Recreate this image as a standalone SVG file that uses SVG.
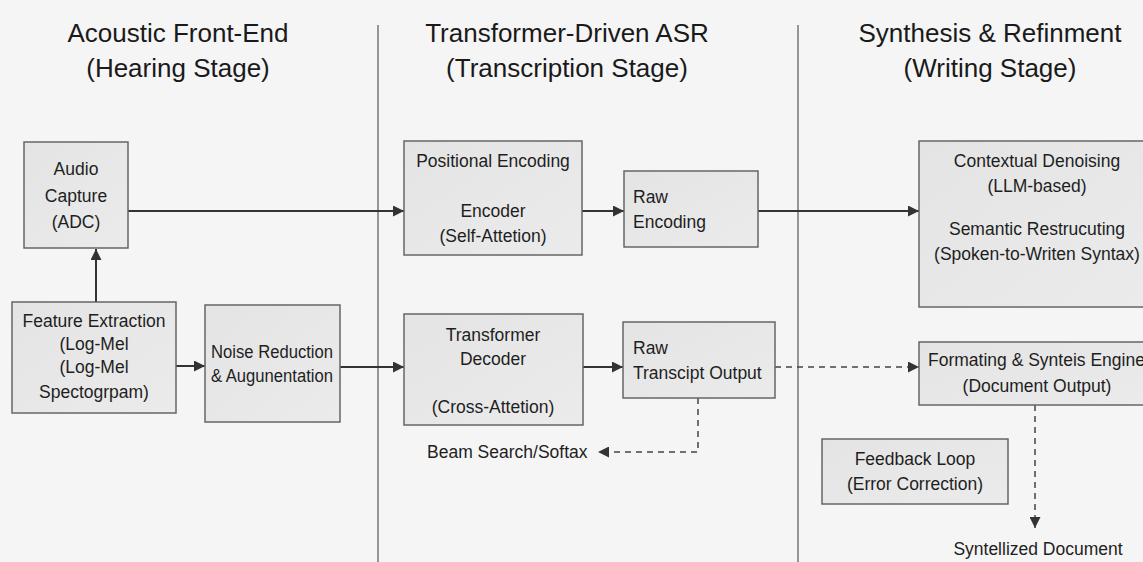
<svg xmlns="http://www.w3.org/2000/svg" width="1143" height="562" viewBox="0 0 1143 562">
<defs>
<linearGradient id="boxg" x1="0" y1="0" x2="1" y2="1">
<stop offset="0" stop-color="#e4e4e4"/>
<stop offset="1" stop-color="#ebebeb"/>
</linearGradient>
<marker id="ah" viewBox="0 0 10 10" refX="10" refY="5" markerWidth="11" markerHeight="11" markerUnits="userSpaceOnUse" orient="auto">
<path d="M0,0 L10,5 L0,10 Z" fill="#333"/>
</marker>
</defs>
<style>
.box{fill:url(#boxg);stroke:#666;stroke-width:1.5}
.t{font-family:"Liberation Sans",Arial,sans-serif;font-size:17.5px;fill:#1e1e1e}
.c{text-anchor:middle}
.title{font-family:"Liberation Sans",Arial,sans-serif;font-size:26px;fill:#1a1a1a;text-anchor:middle}
.ln{fill:none;stroke:#333;stroke-width:2}
.dash{fill:none;stroke:#444;stroke-width:1.5;stroke-dasharray:6 5}
.div{stroke:#555;stroke-width:1.2}
</style>
<rect width="1143" height="562" fill="#f5f5f5"/>
<g id="dividers">
<line class="div" x1="378" y1="25" x2="378" y2="562"/>
<line class="div" x1="798" y1="25" x2="798" y2="562"/>
</g>
<g id="titles">
<text class="title" x="178" y="42">Acoustic Front-End</text>
<text class="title" x="178" y="77">(Hearing Stage)</text>
<text class="title" x="567" y="42">Transformer-Driven ASR</text>
<text class="title" x="567" y="77">(Transcription Stage)</text>
<text class="title" x="990" y="42">Synthesis &amp; Refinment</text>
<text class="title" x="990" y="77">(Writing Stage)</text>
</g>
<g id="connectors">
<line class="ln" x1="128" y1="211" x2="404" y2="211" marker-end="url(#ah)"/>
<line class="ln" x1="96" y1="302" x2="96" y2="249" marker-end="url(#ah)"/>
<line class="ln" x1="176" y1="366" x2="205" y2="366" marker-end="url(#ah)"/>
<line class="ln" x1="340" y1="367" x2="404" y2="367" marker-end="url(#ah)"/>
<line class="ln" x1="582" y1="211" x2="624" y2="211" marker-end="url(#ah)"/>
<line class="ln" x1="583" y1="367" x2="623" y2="367" marker-end="url(#ah)"/>
<line class="ln" x1="758" y1="211" x2="919" y2="211" marker-end="url(#ah)"/>
<line class="dash" x1="775" y1="367" x2="919" y2="367" marker-end="url(#ah)"/>
<polyline class="dash" points="698,398 698,452 598,452" marker-end="url(#ah)"/>
<line class="dash" x1="1035" y1="405" x2="1035" y2="528" marker-end="url(#ah)"/>
</g>
<g id="audio-capture">
<rect class="box" x="24" y="142" width="104" height="106"/>
<text class="t c" x="76" y="175">Audio</text>
<text class="t c" x="76" y="202">Capture</text>
<text class="t c" x="76" y="228">(ADC)</text>
</g>
<g id="feature-extraction">
<rect class="box" x="12" y="302" width="164" height="111"/>
<text class="t c" x="94" y="327">Feature Extraction</text>
<text class="t c" x="94" y="350">(Log-Mel</text>
<text class="t c" x="94" y="373">(Log-Mel</text>
<text class="t c" x="94" y="398">Spectogrpam)</text>
</g>
<g id="noise-reduction">
<rect class="box" x="205" y="305" width="135" height="117"/>
<text class="t c" x="272" y="358" textLength="122" lengthAdjust="spacingAndGlyphs">Noise Reduction</text>
<text class="t c" x="272" y="382" textLength="122" lengthAdjust="spacingAndGlyphs">&amp; Augunentation</text>
</g>
<g id="encoder">
<rect class="box" x="404" y="141" width="178" height="114"/>
<text class="t c" x="493" y="167">Positional Encoding</text>
<text class="t c" x="493" y="217">Encoder</text>
<text class="t c" x="493" y="242">(Self-Attetion)</text>
</g>
<g id="raw-encoding">
<rect class="box" x="624" y="171" width="134" height="76"/>
<text class="t" x="633" y="203">Raw</text>
<text class="t" x="633" y="228">Encoding</text>
</g>
<g id="decoder">
<rect class="box" x="404" y="314" width="179" height="111"/>
<text class="t c" x="493" y="341">Transformer</text>
<text class="t c" x="493" y="365">Decoder</text>
<text class="t c" x="493" y="413">(Cross-Attetion)</text>
</g>
<g id="raw-transcript">
<rect class="box" x="623" y="322" width="152" height="76"/>
<text class="t" x="633" y="354">Raw</text>
<text class="t" x="633" y="379">Transcipt Output</text>
</g>
<g id="beam-search">
<text class="t" x="427" y="458">Beam Search/Softax</text>
</g>
<g id="contextual-denoising">
<rect class="box" x="919" y="141" width="232" height="166"/>
<text class="t c" x="1037" y="167">Contextual Denoising</text>
<text class="t c" x="1037" y="192">(LLM-based)</text>
<text class="t c" x="1037" y="235">Semantic Restrucuting</text>
<text class="t c" x="1037" y="260">(Spoken-to-Writen Syntax)</text>
</g>
<g id="formatting-engine">
<rect class="box" x="919" y="342" width="232" height="63"/>
<text class="t" x="928" y="366">Formating &amp; Synteis Engine</text>
<text class="t c" x="1037" y="392">(Document Output)</text>
</g>
<g id="feedback-loop">
<rect class="box" x="822" y="439" width="186" height="65"/>
<text class="t c" x="915" y="465">Feedback Loop</text>
<text class="t c" x="915" y="490">(Error Correction)</text>
</g>
<g id="syntellized-document">
<text class="t c" x="1038" y="555">Syntellized Document</text>
</g>
</svg>
